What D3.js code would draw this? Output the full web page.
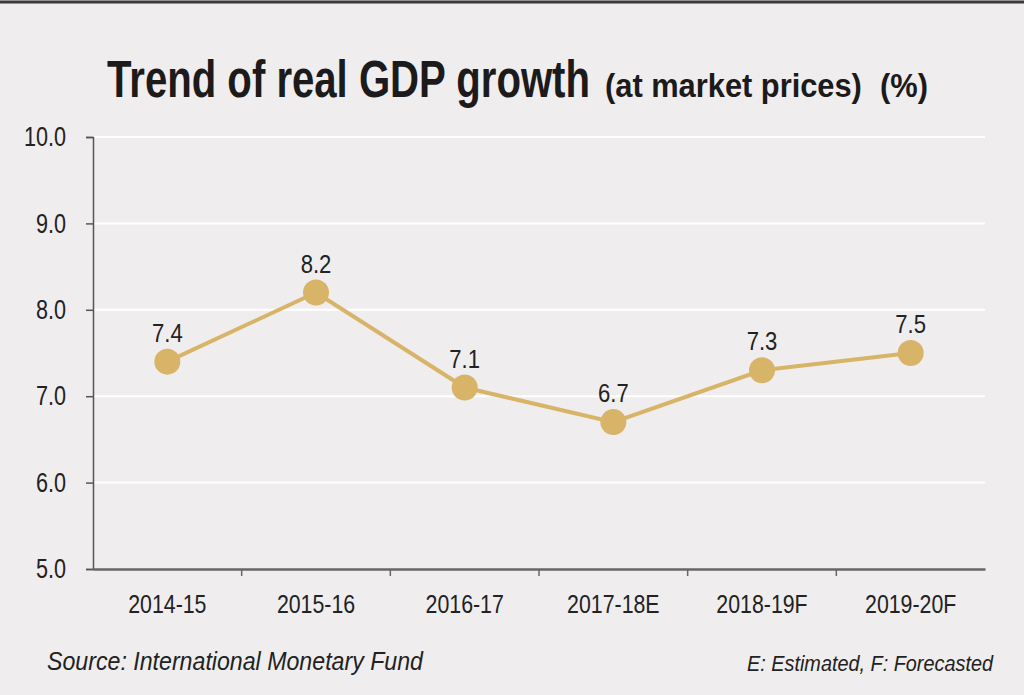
<!DOCTYPE html>
<html>
<head>
<meta charset="utf-8">
<script src="https://cdn.jsdelivr.net/npm/d3@7"></script>
<style>
  html, body { margin: 0; padding: 0; background: #efedee; }
  svg { display: block; }
  text { font-family: "Liberation Sans", Arial, sans-serif; }
</style>
</head>
<body>
<svg id="chart" width="1024" height="695"></svg>
<script>
var years = ["2014-15", "2015-16", "2016-17", "2017-18E", "2018-19F", "2019-20F"];
var growth = [7.4, 8.2, 7.1, 6.7, 7.3, 7.5];
var yTicks = [5, 6, 7, 8, 9, 10];

var width = 1024, height = 695,
    marginLeft = 93, marginRight = 39, marginTop = 137, marginBottom = 126,
    innerW = width - marginLeft - marginRight,
    innerH = height - marginTop - marginBottom;

var svg = d3.select("#chart");

// squeeze text horizontally to mimic the condensed face of the original
function squeeze(sel, factor) {
    sel.each(function () {
        var w = this.getComputedTextLength();
        d3.select(this).attr("textLength", w * factor).attr("lengthAdjust", "spacingAndGlyphs");
    });
}
function fitTo(sel, w) {
    sel.attr("textLength", w).attr("lengthAdjust", "spacingAndGlyphs");
}
// place a text at (x, y) and scale it to a given width
function placeScaled(sel, x, y, w) {
    var natural = sel.node().getComputedTextLength();
    sel.attr("transform", "translate(" + x + "," + y + ") scale(" + (w / natural) + ",1)");
}

svg.append("rect").attr("width", width).attr("height", height).attr("fill", "#efedee");
svg.append("line")
    .attr("x1", 0).attr("x2", width).attr("y1", 2).attr("y2", 2)
    .attr("stroke", "#3a3a3a").attr("stroke-width", 3);

// title
var titleParts = [
    {text: "Trend of real GDP growth", x: 107, w: 483, size: 52},
    {text: "(at market prices)", x: 605, w: 257, size: 34},
    {text: "(%)", x: 880, w: 48, size: 34}
];
titleParts.forEach(function (p) {
    svg.append("text")
        .attr("fill", "#1c1a1b")
        .attr("font-family", "'DejaVu Sans', sans-serif")
        .attr("font-weight", "bold").attr("font-size", p.size)
        .text(p.text)
        .call(placeScaled, p.x, 97, p.w);
});

var x = d3.scaleBand().domain(years).range([0, innerW]);
var y = d3.scaleLinear().domain([5, 10]).range([innerH, 0]);

var g = svg.append("g").attr("transform", "translate(" + marginLeft + "," + marginTop + ")");

// gridlines
g.selectAll(".grid").data(yTicks.slice(1)).enter().append("line")
    .attr("x1", 0).attr("x2", innerW)
    .attr("y1", function (d) { return y(d); })
    .attr("y2", function (d) { return y(d); })
    .attr("stroke", "#ffffff").attr("stroke-width", 2);

// y axis
var yAxis = g.append("g")
    .call(d3.axisLeft(y).tickValues(yTicks).tickFormat(d3.format(".1f")).tickSize(7).tickPadding(20));
yAxis.select(".domain").attr("stroke", "#555").attr("stroke-width", 1.5);
yAxis.selectAll(".tick line").attr("stroke", "#555").attr("stroke-width", 1.5);
yAxis.selectAll("text").attr("font-family", null).attr("font-size", 27).attr("fill", "#222")
    .call(squeeze, 0.8);

// x axis
var xAxis = g.append("g").attr("transform", "translate(0," + innerH + ")")
    .call(d3.axisBottom(x).tickSize(0).tickPadding(26));
xAxis.select(".domain").attr("stroke", "#666").attr("stroke-width", 2.5);
xAxis.selectAll("text").attr("font-family", null).attr("font-size", 26).attr("fill", "#222")
    .call(squeeze, 0.82);
xAxis.selectAll(".sep").data(years.slice(1)).enter().append("line")
    .attr("x1", function (d) { return x(d); })
    .attr("x2", function (d) { return x(d); })
    .attr("y1", 0).attr("y2", 7)
    .attr("stroke", "#666").attr("stroke-width", 1.5);

// line
var pts = years.map(function (d, i) { return [x(d) + x.bandwidth() / 2, y(growth[i])]; });
g.append("path")
    .attr("d", d3.line()(pts))
    .attr("fill", "none").attr("stroke", "#d8b469").attr("stroke-width", 4);

g.selectAll(".dot").data(pts).enter().append("circle")
    .attr("cx", function (d) { return d[0]; })
    .attr("cy", function (d) { return d[1]; })
    .attr("r", 13).attr("fill", "#d8b469");

g.selectAll(".lbl").data(growth).enter().append("text")
    .attr("x", function (d, i) { return pts[i][0]; })
    .attr("y", function (d, i) { return pts[i][1] - 20; })
    .attr("text-anchor", "middle")
    .attr("font-size", 26).attr("fill", "#222")
    .text(function (d) { return d3.format(".1f")(d); })
    .call(squeeze, 0.85);

// footer
svg.append("text")
    .attr("x", 47).attr("y", 670)
    .attr("font-size", 26).attr("font-style", "italic").attr("fill", "#222")
    .text("Source: International Monetary Fund")
    .call(fitTo, 376);
svg.append("text")
    .attr("x", 747).attr("y", 671)
    .attr("font-size", 22).attr("font-style", "italic").attr("fill", "#222")
    .text("E: Estimated, F: Forecasted")
    .call(fitTo, 246);
</script>
</body>
</html>
